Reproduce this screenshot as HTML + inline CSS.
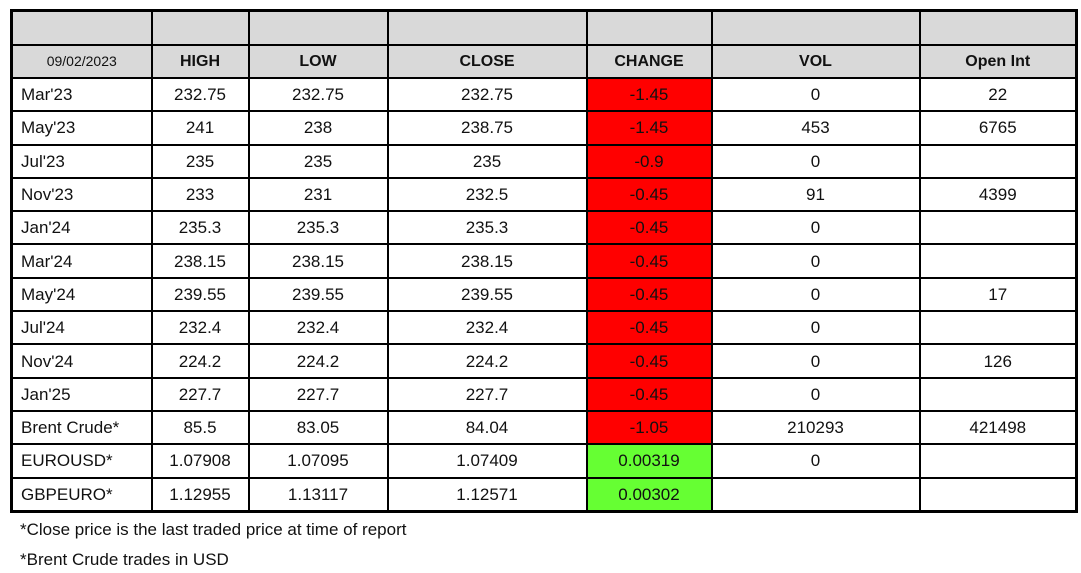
<!DOCTYPE html>
<html><head><meta charset="utf-8"><style>
body{margin:0;background:#fff;width:1081px;height:573px;overflow:hidden;font-family:"Liberation Sans",Arial,sans-serif;}
table{position:absolute;left:10px;top:9px;border-collapse:collapse;table-layout:fixed;width:1065px;border:3px solid #000;}
td{border:2px solid #000;padding:0;text-align:center;font-size:17px;color:#111;height:31.3px;line-height:31px;white-space:nowrap;overflow:hidden;}
tr.h td{background:#d9d9d9;font-weight:bold;font-size:16px;height:31.5px;}
td.l{text-align:left;padding-left:8px;}
td.r{background:#ff0000;}
td.g{background:#66ff33;}
.f{position:absolute;left:20px;font-size:17px;color:#111;}
</style></head><body>
<table>
<colgroup><col style="width:140px"><col style="width:97px"><col style="width:139px"><col style="width:199px"><col style="width:125px"><col style="width:208px"><col style="width:157px"></colgroup>
<tr class="h"><td></td><td></td><td></td><td></td><td></td><td></td><td></td></tr>
<tr class="h"><td style="font-weight:normal;font-size:14px">09/02/2023</td><td>HIGH</td><td>LOW</td><td>CLOSE</td><td>CHANGE</td><td>VOL</td><td>Open Int</td></tr>
<tr><td class="l">Mar'23</td><td>232.75</td><td>232.75</td><td>232.75</td><td class="r">-1.45</td><td>0</td><td>22</td></tr>
<tr><td class="l">May'23</td><td>241</td><td>238</td><td>238.75</td><td class="r">-1.45</td><td>453</td><td>6765</td></tr>
<tr><td class="l">Jul'23</td><td>235</td><td>235</td><td>235</td><td class="r">-0.9</td><td>0</td><td></td></tr>
<tr><td class="l">Nov'23</td><td>233</td><td>231</td><td>232.5</td><td class="r">-0.45</td><td>91</td><td>4399</td></tr>
<tr><td class="l">Jan'24</td><td>235.3</td><td>235.3</td><td>235.3</td><td class="r">-0.45</td><td>0</td><td></td></tr>
<tr><td class="l">Mar'24</td><td>238.15</td><td>238.15</td><td>238.15</td><td class="r">-0.45</td><td>0</td><td></td></tr>
<tr><td class="l">May'24</td><td>239.55</td><td>239.55</td><td>239.55</td><td class="r">-0.45</td><td>0</td><td>17</td></tr>
<tr><td class="l">Jul'24</td><td>232.4</td><td>232.4</td><td>232.4</td><td class="r">-0.45</td><td>0</td><td></td></tr>
<tr><td class="l">Nov'24</td><td>224.2</td><td>224.2</td><td>224.2</td><td class="r">-0.45</td><td>0</td><td>126</td></tr>
<tr><td class="l">Jan'25</td><td>227.7</td><td>227.7</td><td>227.7</td><td class="r">-0.45</td><td>0</td><td></td></tr>
<tr><td class="l">Brent Crude*</td><td>85.5</td><td>83.05</td><td>84.04</td><td class="r">-1.05</td><td>210293</td><td>421498</td></tr>
<tr><td class="l">EUROUSD*</td><td>1.07908</td><td>1.07095</td><td>1.07409</td><td class="g">0.00319</td><td>0</td><td></td></tr>
<tr><td class="l">GBPEURO*</td><td>1.12955</td><td>1.13117</td><td>1.12571</td><td class="g">0.00302</td><td></td><td></td></tr>
</table>
<div class="f" style="top:520px">*Close price is the last traded price at time of report</div>
<div class="f" style="top:550px">*Brent Crude trades in USD</div>
</body></html>
